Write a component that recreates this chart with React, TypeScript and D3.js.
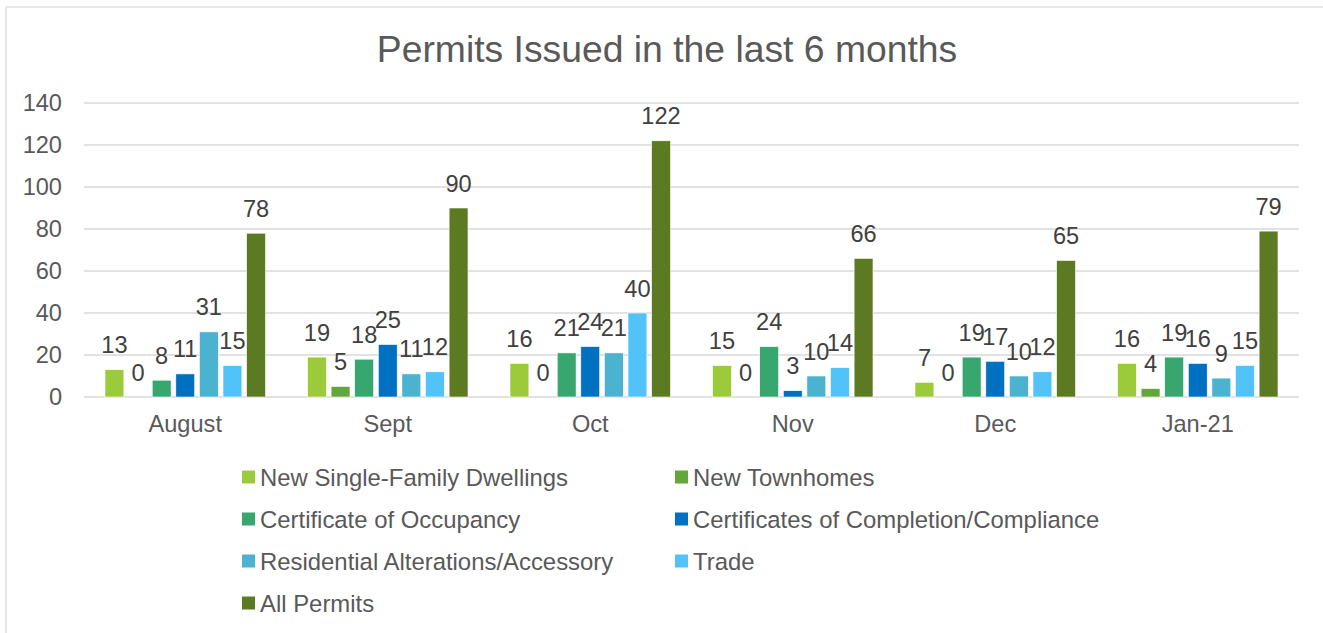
import React from "react";
import * as d3 from "d3";

const months = ["August", "Sept", "Oct", "Nov", "Dec", "Jan-21"];
const seriesNames = [
  "New Single-Family Dwellings",
  "New Townhomes",
  "Certificate of Occupancy",
  "Certificates of Completion/Compliance",
  "Residential Alterations/Accessory",
  "Trade",
  "All Permits",
];
const seriesColors = ["#9BCB3B", "#62A73B", "#37A76F", "#0070C0", "#4BB2CF", "#51C3F8", "#5B7A21"];
const singleFamily = [13, 19, 16, 15, 7, 16];
const townhomes = [0, 5, 0, 0, 0, 4];
const occupancy = [8, 18, 21, 24, 19, 19];
const completion = [11, 25, 24, 3, 17, 16];
const alterations = [31, 11, 21, 10, 10, 9];
const trade = [15, 12, 40, 14, 12, 15];
const allPermits = [78, 90, 122, 66, 65, 79];
const seriesValues = [singleFamily, townhomes, occupancy, completion, alterations, trade, allPermits];
const yTicks = [0, 20, 40, 60, 80, 100, 120, 140];

const W = 1323;
const H = 633;
const FONT = "'Liberation Sans', Arial, sans-serif";

export default function App() {
  const x0 = d3.scaleBand<string>().domain(months).range([84, 1299]).paddingInner(0).paddingOuter(0);
  const x1 = d3
    .scaleBand<string>()
    .domain(seriesNames)
    .range([0, x0.bandwidth()])
    .paddingInner(0.2)
    .paddingOuter(0.89);
  const y = d3.scaleLinear().domain([0, 140]).range([397, 103]);

  const legendCols = [242, 675];
  const legendRows = [477, 519, 561, 603];

  return (
    <div style={{ position: "fixed", left: 0, top: 0 }}>
      <svg width={W} height={H} style={{ display: "block", background: "#fff" }}>
        <rect x={6} y={7} width={W + 10} height={H + 10} fill="#fff" stroke="#d9d9d9" strokeWidth={1.2} />
        <text x={667} y={62} textAnchor="middle" fontFamily={FONT} fontSize={37.3} fill="#595959">
          Permits Issued in the last 6 months
        </text>
        {yTicks.map((t) => (
          <g key={t}>
            <line x1={84} x2={1299} y1={y(t)} y2={y(t)} stroke="#d9d9d9" strokeWidth={1.5} />
            <text x={62} y={y(t)} dy="0.36em" textAnchor="end" fontFamily={FONT} fontSize={23.6} fill="#595959">
              {t}
            </text>
          </g>
        ))}
        {months.map((m, mi) => (
          <g key={m} transform={`translate(${x0(m)},0)`}>
            {seriesNames.map((s, si) => {
              const v = seriesValues[si][mi];
              const bx = x1(s) as number;
              return (
                <g key={s}>
                  <rect
                    x={bx}
                    y={y(v)}
                    width={x1.bandwidth()}
                    height={y(0) - y(v)}
                    fill={seriesColors[si]}
                    stroke="#ffffff"
                    strokeWidth={0.6}
                  />
                  <text
                    x={bx + x1.bandwidth() / 2}
                    y={y(v) - 16.5}
                    textAnchor="middle"
                    fontFamily={FONT}
                    fontSize={23.6}
                    fill="#404040"
                  >
                    {v}
                  </text>
                </g>
              );
            })}
            <text
              x={x0.bandwidth() / 2}
              y={432}
              textAnchor="middle"
              fontFamily={FONT}
              fontSize={23.6}
              fill="#595959"
            >
              {m}
            </text>
          </g>
        ))}
        {seriesNames.map((s, i) => {
          const cx = legendCols[i % 2];
          const cy = legendRows[Math.floor(i / 2)];
          return (
            <g key={s}>
              <rect x={cx} y={cy - 6.5} width={13} height={13} fill={seriesColors[i]} />
              <text x={cx + 18} y={cy} dy="0.36em" fontFamily={FONT} fontSize={23.9} fill="#595959">
                {s}
              </text>
            </g>
          );
        })}
      </svg>
    </div>
  );
}
